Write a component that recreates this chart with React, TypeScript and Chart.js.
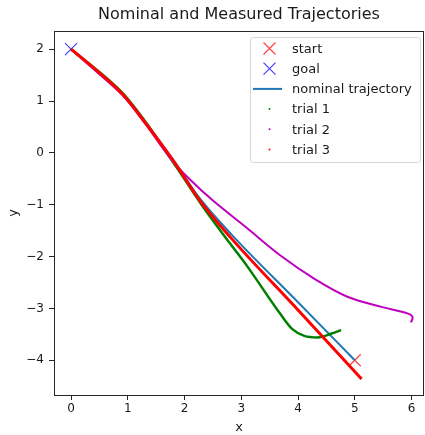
import React, { useEffect, useRef } from 'react';
import { Chart, registerables } from 'chart.js';

Chart.register(...registerables);

// ---- data ----
const startX = [5.0];
const startY = [-4.0];
const goalX = [0.0];
const goalY = [2.0];

const nominalX = [0, 0.32, 0.91, 1.33, 1.8, 2.27, 2.85, 4.0, 5.0];
const nominalY = [2.0, 1.71, 1.13, 0.56, -0.13, -0.88, -1.6, -2.88, -4.0];

const trial1X = [0, 0.32, 0.91, 1.33, 1.86, 2.3, 2.81, 3.1, 3.69, 3.9, 4.11, 4.35, 4.58, 4.76];
const trial1Y = [2.0, 1.72, 1.15, 0.57, -0.28, -1.0, -1.76, -2.18, -3.11, -3.4, -3.53, -3.56, -3.49, -3.42];

const trial2X = [0, 0.32, 0.91, 1.33, 1.74, 2.1, 2.5, 3.1, 3.69, 4.29, 4.88, 5.47, 5.94, 6.02, 5.99];
const trial2Y = [2.0, 1.69, 1.11, 0.53, -0.09, -0.52, -0.92, -1.45, -1.98, -2.43, -2.78, -2.97, -3.1, -3.17, -3.27];

const trial3X = [0, 0.32, 0.91, 1.33, 1.8, 2.27, 2.81, 4.0, 5.12];
const trial3Y = [2.0, 1.71, 1.13, 0.55, -0.15, -0.92, -1.63, -3.03, -4.36];

const xTickValues = [0, 1, 2, 3, 4, 5, 6];
const yTickValues = [-4, -3, -2, -1, 0, 1, 2];

const seriesLabels = ['start', 'goal', 'nominal trajectory', 'trial 1', 'trial 2', 'trial 3'];

const zip = (xs: number[], ys: number[]) => xs.map((x, i) => ({ x, y: ys[i] }));

const FONT = "'DejaVu Sans', sans-serif";

const frameAndLegend = {
  id: 'frameAndLegend',
  afterDraw(chart: any) {
    const { ctx, chartArea: a } = chart;
    ctx.save();
    // axes frame
    ctx.strokeStyle = '#262626';
    ctx.lineWidth = 1;
    ctx.strokeRect(Math.round(a.left) + 0.5, Math.round(a.top) + 0.5,
      Math.round(a.right) - Math.round(a.left) - 1, Math.round(a.bottom) - Math.round(a.top));

    // legend
    const w = 170, h = 125;
    const x0 = Math.round(a.right) - w - 4;
    const y0 = Math.round(a.top) + 6;
    ctx.beginPath();
    const r = 3;
    ctx.moveTo(x0 + r + 0.5, y0 + 0.5);
    ctx.arcTo(x0 + w + 0.5, y0 + 0.5, x0 + w + 0.5, y0 + h + 0.5, r);
    ctx.arcTo(x0 + w + 0.5, y0 + h + 0.5, x0 + 0.5, y0 + h + 0.5, r);
    ctx.arcTo(x0 + 0.5, y0 + h + 0.5, x0 + 0.5, y0 + 0.5, r);
    ctx.arcTo(x0 + 0.5, y0 + 0.5, x0 + w + 0.5, y0 + 0.5, r);
    ctx.closePath();
    ctx.fillStyle = 'rgba(255,255,255,0.8)';
    ctx.fill();
    ctx.strokeStyle = '#d6d6d6';
    ctx.stroke();

    const ds = chart.data.datasets;
    ctx.font = `13px ${FONT}`;
    ctx.textBaseline = 'middle';
    ctx.textAlign = 'left';
    ds.forEach((d: any, i: number) => {
      const cy = y0 + 11.5 + i * 20.2;
      const mx = x0 + 19.5;
      if (d.legendKind === 'cross') {
        ctx.strokeStyle = d.borderColor;
        ctx.lineWidth = 1.2;
        const s = 6;
        ctx.beginPath();
        ctx.moveTo(mx - s, cy - s); ctx.lineTo(mx + s, cy + s);
        ctx.moveTo(mx - s, cy + s); ctx.lineTo(mx + s, cy - s);
        ctx.stroke();
      } else if (d.legendKind === 'line') {
        ctx.strokeStyle = d.borderColor;
        ctx.lineWidth = 2;
        ctx.beginPath();
        ctx.moveTo(x0 + 3, cy); ctx.lineTo(x0 + 32, cy);
        ctx.stroke();
      } else {
        ctx.fillStyle = d.borderColor;
        ctx.beginPath();
        ctx.arc(mx, cy, 1, 0, Math.PI * 2);
        ctx.fill();
      }
      ctx.fillStyle = '#1a1a1a';
      ctx.fillText(d.label, x0 + 42, cy + 1);
    });
    ctx.restore();
  },
};

export default function App() {
  const ref = useRef<HTMLCanvasElement>(null);
  useEffect(() => {
    document.body.style.margin = '0';
    const canvas = ref.current!;
    const minus = (v: any) => String(v).replace('-', '\u2212');
    const chart = new Chart(canvas, {
      type: 'scatter',
      data: {
        datasets: [
          {
            label: seriesLabels[0], legendKind: 'cross',
            data: zip(startX, startY), showLine: false,
            pointStyle: 'crossRot', pointRadius: 8.5, borderWidth: 1.2,
            borderColor: 'rgba(255,0,0,0.75)', backgroundColor: 'rgba(255,0,0,0.75)', order: 5,
          },
          {
            label: seriesLabels[1], legendKind: 'cross',
            data: zip(goalX, goalY), showLine: false,
            pointStyle: 'crossRot', pointRadius: 8.5, borderWidth: 1.2,
            borderColor: 'rgba(0,0,255,0.75)', backgroundColor: 'rgba(0,0,255,0.75)', order: 6,
          },
          {
            label: seriesLabels[2], legendKind: 'line',
            data: zip(nominalX, nominalY), showLine: true, pointRadius: 0,
            borderColor: '#1f77b4', borderWidth: 2, cubicInterpolationMode: 'monotone', order: 4,
          },
          {
            label: seriesLabels[3], legendKind: 'dot',
            data: zip(trial1X, trial1Y), showLine: true, pointRadius: 0,
            borderColor: '#008000', borderWidth: 2.5, cubicInterpolationMode: 'monotone', order: 3,
          },
          {
            label: seriesLabels[4], legendKind: 'dot',
            data: zip(trial2X, trial2Y), showLine: true, pointRadius: 0,
            borderColor: '#bf00bf', borderWidth: 2, tension: 0.3, order: 2,
          },
          {
            label: seriesLabels[5], legendKind: 'dot',
            data: zip(trial3X, trial3Y), showLine: true, pointRadius: 0,
            borderColor: '#ff0000', borderWidth: 3, cubicInterpolationMode: 'monotone', order: 1,
          },
        ] as any,
      },
      options: {
        responsive: false,
        animation: false,
        layout: { autoPadding: false, padding: { top: 0, right: 1, bottom: 0, left: 0 } },
        plugins: {
          legend: { display: false },
          tooltip: { enabled: false },
          title: {
            display: true,
            text: 'Nominal and Measured Trajectories',
            fullSize: false,
            color: '#1a1a1a',
            font: { family: FONT, size: 16, weight: 'normal' },
            padding: { top: 5, bottom: 6.8 },
          },
        },
        scales: {
          x: {
            type: 'linear',
            min: -0.3,
            max: 6.22,
            afterFit: (s: any) => { s.height = 40; s.paddingLeft = 0; s.paddingRight = 0; },
            afterBuildTicks: (s: any) => { s.ticks = xTickValues.map((v) => ({ value: v })); },
            ticks: {
              includeBounds: false, color: '#1a1a1a', padding: 2,
              font: { family: FONT, size: 12 }, callback: minus,
              maxRotation: 0,
            },
            grid: { drawOnChartArea: false, drawTicks: true, tickLength: 5, color: '#262626' },
            border: { display: false },
            title: {
              display: true, text: 'x', color: '#1a1a1a',
              font: { family: FONT, size: 13 }, padding: { top: 0, bottom: 0 },
            },
          },
          y: {
            type: 'linear',
            min: -4.67,
            max: 2.35,
            afterFit: (s: any) => { s.width = 54; s.paddingTop = 0; s.paddingBottom = 0; },
            afterBuildTicks: (s: any) => { s.ticks = yTickValues.map((v) => ({ value: v })); },
            ticks: {
              includeBounds: false, color: '#1a1a1a', padding: 5,
              font: { family: FONT, size: 12 }, callback: minus,
            },
            grid: { drawOnChartArea: false, drawTicks: true, tickLength: 5, color: '#262626' },
            border: { display: false },
            title: {
              display: true, text: 'y', color: '#1a1a1a',
              font: { family: FONT, size: 13 }, padding: { top: 6, bottom: 0 },
            },
          },
        },
      } as any,
      plugins: [frameAndLegend],
    });
    return () => chart.destroy();
  }, []);
  return <canvas ref={ref} width={425} height={435} style={{ display: 'block' }} />;
}
